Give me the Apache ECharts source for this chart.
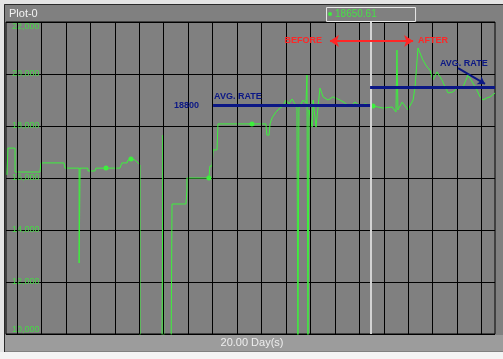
<!DOCTYPE html>
<html><head><meta charset="utf-8">
<script src="https://cdn.jsdelivr.net/npm/echarts@6/dist/echarts.min.js"></script>
<style>html,body{margin:0;padding:0;background:#fff}#c{width:503px;height:359px}</style>
</head><body><div id="c"></div>
<script>
// ---- data ----
const title = 'Plot-0';
const spanLabel = '20.00 Day(s)';
const cursorReadout = '18650.61';
const yMin = 10000, yMax = 22000, yStep = 2000;
const xMin = 0, xMax = 20;            // days shown (20.00 Day(s))
const vGridDays = [0.45,1.45,2.45,3.45,4.45,5.45,6.45,7.45,8.45,9.45,10.45,11.45,12.45,13.45,14.45,15.45,16.45,17.45,18.45,19.45];
const traceDays = [
  0.04,0.08,0.37,0.37,1.39,1.43,2.37,2.41,2.99,2.99,
  3.03,3.35,3.35,3.64,3.68,4.09,4.66,4.74,4.95,4.99,
  5.11,5.28,5.48,5.48,6.38,6.42,6.46,6.75,6.79,7.36,
  7.40,7.40,8.30,8.34,8.43,8.47,8.63,8.67,10.06,10.63,
  10.67,10.76,10.80,10.88,11.04,11.21,11.33,11.45,11.57,11.70,
  11.82,11.90,11.94,11.98,12.15,12.27,12.31,12.35,12.39,12.52,
  12.56,12.68,12.84,12.97,13.17,13.37,13.66,13.87,14.07,14.27,
  14.48,14.68,14.89,15.01,15.42,15.79,15.95,15.99,16.03,16.20,
  16.32,16.44,16.52,16.65,16.73,16.85,16.93,17.05,17.22,17.34,
  17.46,17.63,17.83,17.96,18.08,18.28,18.49,18.69,18.90,19.10,
  19.26,19.39,19.51,19.67,19.80,20.00];
const traceValues = [
  16120,17150,17150,16230,16230,16580,16580,16380,16380,12730,
  16380,16380,16270,16270,16380,16380,16380,16580,16580,16690,
  16730,16690,16500,9000,9000,17650,9000,9000,15000,15000,
  15540,16000,16000,16460,16460,17080,17080,18080,18080,18080,
  17650,17650,18080,18310,18540,18690,18770,19000,18850,19040,
  18850,18690,9000,18690,19000,18880,19960,9000,18620,17960,
  19000,17960,19460,19120,19000,19120,19000,18880,18730,18920,
  18770,18850,18810,18770,18690,18730,18540,20920,18620,18920,
  18770,18620,18770,19000,19500,21000,21000,20540,20270,20150,
  19770,20080,19770,19500,19270,19310,19500,19500,19960,19650,
  19380,19120,19000,19080,19120,19270];
const markerDays = [4.09, 5.11, 8.30, 10.06, 15.01];
const cursorDay = 14.93;
const avgBeforeDays = [8.47, 14.89], avgBeforeValue = 18800, avgBeforeText = '18800';
const avgAfterDays = [14.89, 20.0], avgAfterValue = 19500;
const avgLabel = 'AVG. RATE';
const compareDays = [13.25, 16.65], compareValue = 21270;
const beforeText = 'BEFORE', afterText = 'AFTER';
const avgAfterLabelAt = [17.75, 20385];
const pointerFrom = [18.49, 20230], pointerTo = [19.59, 19620];

// ---- chart ----
const chart = echarts.init(document.getElementById('c'));
const FONT = 'Liberation Sans, Arial, sans-serif';
const green = '#3df03d';
const navy = '#0b1785';
const red = '#ff2626';

const traceData = traceDays.map((d, i) => {
  const item = { value: [d, traceValues[i]] };
  if (markerDays.includes(d)) { item.symbol = 'circle'; item.symbolSize = 5; }
  return item;
});

const lblStyle = (txt, color, pos, dist, offset) => ({
  show: true, formatter: txt, color: color, fontFamily: FONT, fontWeight: 'bold',
  fontSize: 9, position: pos, distance: dist, offset: offset || [0, 0]
});

const option = {
  backgroundColor: '#808080',
  animation: false,
  grid: { left: 6, right: 8, top: 22, bottom: 25, show: true, backgroundColor: '#808080', borderColor: '#000', borderWidth: 1 },
  xAxis: { type: 'value', min: xMin, max: xMax, axisLabel: { show: false }, axisTick: { show: false }, axisLine: { show: false }, splitLine: { show: false } },
  yAxis: {
    type: 'value', min: yMin, max: yMax, interval: yStep,
    axisLine: { show: false }, axisTick: { show: false },
    splitLine: { show: true, lineStyle: { color: '#000', width: 1 } },
    axisLabel: { inside: true, margin: 6, color: '#45d845', fontSize: 9, fontFamily: FONT,
      verticalAlignMaxLabel: 'top', verticalAlignMinLabel: 'bottom' }
  },
  series: [
    { type: 'line', data: [], silent: true, z: 1,
      markLine: { silent: true, symbol: 'none', animation: false, label: { show: false },
        lineStyle: { color: '#000', width: 1, type: 'solid' },
        data: vGridDays.map(d => ({ xAxis: d })) } },
    { type: 'line', data: [], silent: true, z: 2,
      markLine: { silent: true, symbol: 'none', animation: false, label: { show: false },
        lineStyle: { color: '#d4d4d4', width: 2, type: 'solid' },
        data: [{ xAxis: cursorDay }] } },
    { type: 'line', data: traceData, z: 3, symbol: 'none', showSymbol: true, clip: true,
      lineStyle: { color: green, width: 1 }, itemStyle: { color: green } },
    { type: 'line', data: [], silent: true, z: 4,
      markLine: { silent: true, animation: false, symbol: 'none', label: { show: false },
        lineStyle: { color: navy, width: 3, type: 'solid' },
        data: [
          [{ coord: [avgBeforeDays[0], avgBeforeValue] }, { coord: [avgBeforeDays[1], avgBeforeValue] }],
          [{ coord: [avgAfterDays[0], avgAfterValue] }, { coord: [avgAfterDays[1], avgAfterValue] }]
        ] } },
    { type: 'line', data: [], silent: true, z: 5,
      markLine: { silent: true, animation: false, symbol: ['arrow', 'arrow'], symbolSize: [9, 9], label: { show: false },
        lineStyle: { color: red, width: 2, type: 'solid' },
        data: [[{ coord: [compareDays[0], compareValue] }, { coord: [compareDays[1], compareValue] }]] } },
    { type: 'line', data: [], silent: true, z: 5,
      markLine: { silent: true, animation: false, symbol: ['none', 'arrow'], symbolSize: [7, 7], label: { show: false },
        lineStyle: { color: navy, width: 2, type: 'solid' },
        data: [[{ coord: pointerFrom }, { coord: pointerTo }]] } },
    { type: 'line', data: [], silent: true, z: 6,
      markPoint: { silent: true, animation: false, symbol: 'circle', symbolSize: 0,
        data: [
          { coord: [avgBeforeDays[0], avgBeforeValue], label: lblStyle(avgBeforeText, navy, 'left', 14) },
          { coord: [avgBeforeDays[0], avgBeforeValue], label: lblStyle(avgLabel, navy, 'right', 1, [0, -9]) },
          { coord: avgAfterLabelAt, label: lblStyle(avgLabel, navy, 'right', 0) },
          { coord: [compareDays[0], compareValue], label: lblStyle(beforeText, red, 'left', 8) },
          { coord: [compareDays[1], compareValue], label: lblStyle(afterText, red, 'right', 5) }
        ] } }
  ],
  graphic: [
    { type: 'rect', z: 100, shape: { x: 0, y: 0, width: 503, height: 4 }, style: { fill: '#e4e4e4' } },
    { type: 'rect', z: 100, shape: { x: 0, y: 0, width: 4, height: 359 }, style: { fill: '#e4e4e4' } },
    { type: 'rect', z: 100, shape: { x: 4.5, y: 4.5, width: 500, height: 348 }, style: { fill: 'none', stroke: '#2a2a2a', lineWidth: 1 } },
    { type: 'rect', z: 100, shape: { x: 5, y: 335, width: 498, height: 16 }, style: { fill: '#9c9c9c' } },
    { type: 'rect', z: 100, shape: { x: 0, y: 352, width: 503, height: 7 }, style: { fill: '#f4f4f4' } },
    { type: 'text', z: 101, x: 252, y: 343, style: { text: spanLabel, fill: '#eeeeee', font: '11px ' + FONT, align: 'center', verticalAlign: 'middle' } },
    { type: 'text', z: 101, x: 9, y: 14, style: { text: title, fill: '#f2f2f2', font: '11px ' + FONT, align: 'left', verticalAlign: 'middle' } }
  ]
};
chart.setOption(option);

// cursor readout box, centred on the cursor line
const cx = chart.convertToPixel({ gridIndex: 0 }, [cursorDay, yMax])[0];
chart.setOption({ graphic: option.graphic.concat([
  { type: 'rect', z: 101, shape: { x: cx - 44.5, y: 7.5, width: 89, height: 14 }, style: { fill: 'none', stroke: '#e8e8e8', lineWidth: 1 } },
  { type: 'circle', z: 101, shape: { cx: cx - 41, cy: 14, r: 2 }, style: { fill: green } },
  { type: 'text', z: 101, x: cx - 36, y: 14.5, style: { text: cursorReadout, fill: '#46e046', font: '10px ' + FONT, align: 'left', verticalAlign: 'middle' } }
]) });
</script>
</body></html>
